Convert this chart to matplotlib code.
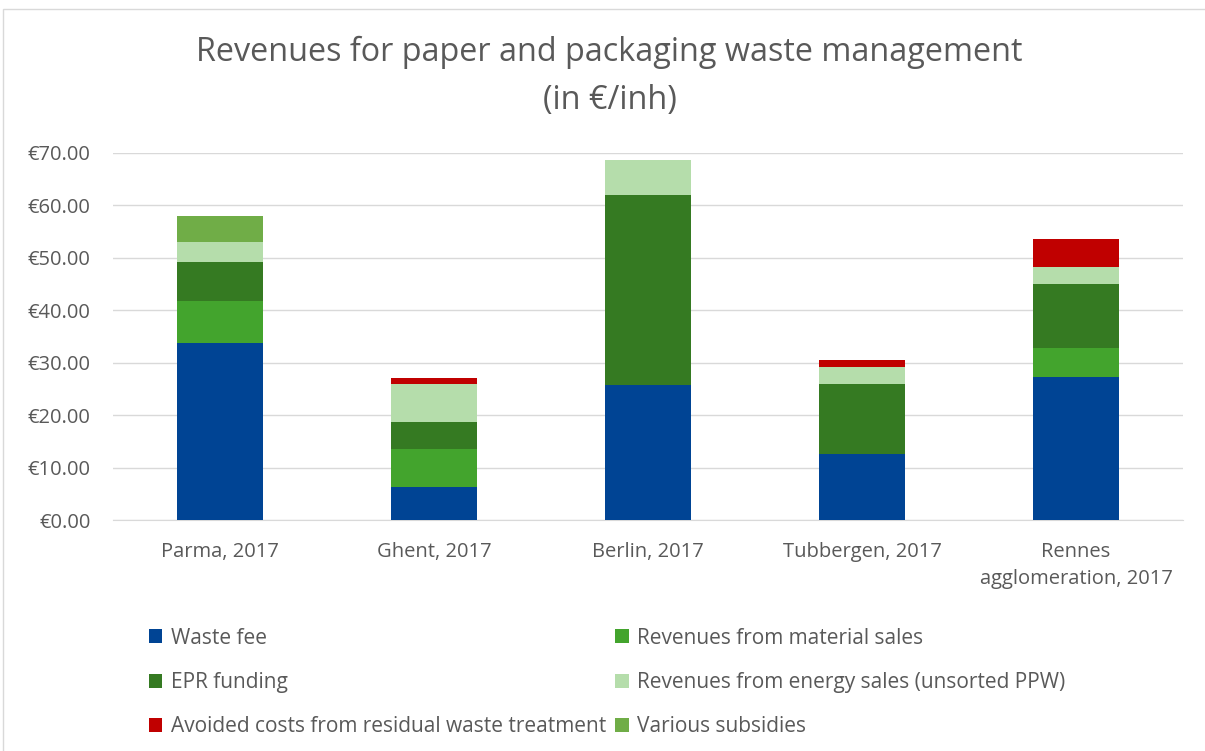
import matplotlib.pyplot as plt
import matplotlib.patches as mpatches
import numpy as np

plt.rcParams['font.family'] = ['Open Sans', 'DejaVu Sans']

cities = ['Parma, 2017', 'Ghent, 2017', 'Berlin, 2017', 'Tubbergen, 2017',
          'Rennes\nagglomeration, 2017']

waste_fee = [33.7, 6.35, 25.7, 12.5, 27.3]
material_sales = [8.1, 7.25, 0.0, 0.0, 5.6]
epr_funding = [7.5, 5.15, 36.2, 13.4, 12.1]
energy_sales = [3.7, 7.15, 6.8, 3.3, 3.3]
avoided_costs = [0.0, 1.1, 0.0, 1.3, 5.3]
subsidies = [5.0, 0.0, 0.0, 0.0, 0.0]

series = [
    ('Waste fee', waste_fee, '#004494'),
    ('Revenues from material sales', material_sales, '#43A42D'),
    ('EPR funding', epr_funding, '#357A22'),
    ('Revenues from energy sales (unsorted PPW)', energy_sales, '#B5DDAB'),
    ('Avoided costs from residual waste treatment', avoided_costs, '#C00000'),
    ('Various subsidies', subsidies, '#70AD47'),
]

fig = plt.figure(figsize=(12.05, 7.51), dpi=100)
ax = fig.add_axes([113 / 1205, 1 - 520 / 751, 1070 / 1205, 367 / 751])

x = np.arange(len(cities))
bottom = np.zeros(len(cities))
handles = {}
for name, vals, col in series:
    vals = np.array(vals)
    b = ax.bar(x, vals, 0.4, bottom=bottom, color=col, zorder=3, label=name)
    handles[name] = b
    bottom += vals

ax.set_xlim(-0.5, len(cities) - 0.5)
ax.set_ylim(0, 70)
ax.set_yticks(np.arange(0, 71, 10))
ax.set_yticklabels(['€%.2f' % v for v in np.arange(0, 71, 10)])
ax.set_xticks(x)
ax.set_xticklabels(cities, linespacing=1.45)
ax.tick_params(axis='both', length=0, labelsize=14.5, colors='#595959')
ax.tick_params(axis='x', pad=16)
ax.tick_params(axis='y', pad=16)
ax.grid(axis='y', color='#D9D9D9', linewidth=1, zorder=0)
for s in ax.spines.values():
    s.set_visible(False)
ax.spines['bottom'].set_visible(True)
ax.spines['bottom'].set_color('#D9D9D9')

fig.text(0.506, 1 - 52 / 751, 'Revenues for paper and packaging waste management',
         ha='center', va='center', fontsize=23.3, color='#595959')
fig.text(0.506, 1 - 101 / 751, '(in €/inh)',
         ha='center', va='center', fontsize=23.3, color='#595959')

order = ['Waste fee', 'EPR funding', 'Avoided costs from residual waste treatment',
         'Revenues from material sales', 'Revenues from energy sales (unsorted PPW)',
         'Various subsidies']
leg = fig.legend([handles[n] for n in order], order, loc='upper left',
                 bbox_to_anchor=(130 / 1205, 1 - 609 / 751), ncol=2, frameon=False,
                 fontsize=15, handlelength=0.65, handleheight=0.65,
                 handletextpad=0.4, labelspacing=1.12, columnspacing=0.45)
for t in leg.get_texts():
    t.set_color('#595959')

frame = mpatches.Rectangle((3 / 1205, -0.1), 1.2, 1 - 9 / 751 + 0.1,
                           transform=fig.transFigure, fill=False,
                           edgecolor='#D9D9D9', linewidth=1)
fig.patches.append(frame)

fig.savefig('out.png', dpi=100)
